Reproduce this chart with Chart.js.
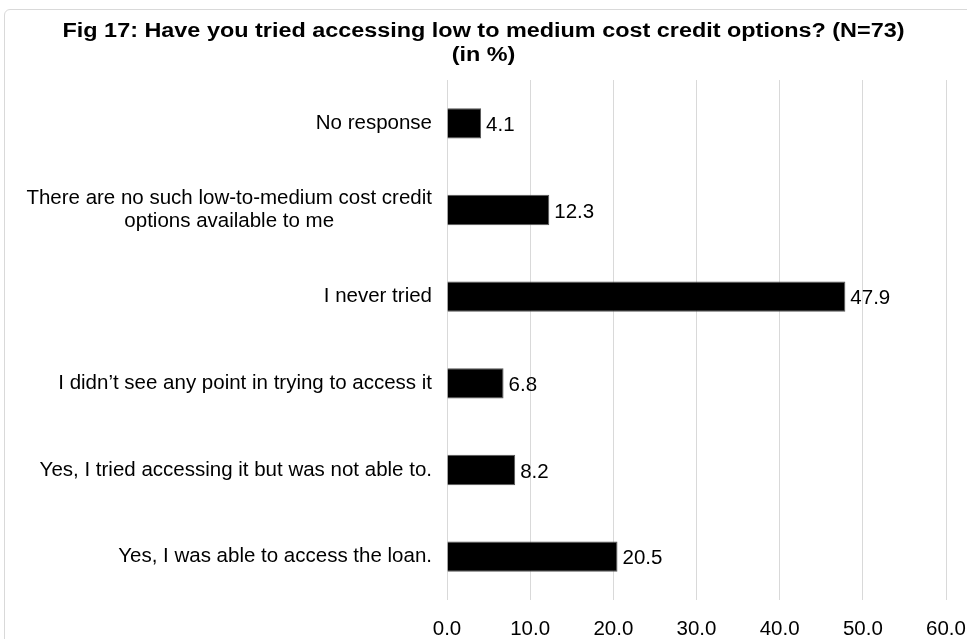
<!DOCTYPE html>
<html>
<head>
<meta charset="utf-8">
<title>Fig 17</title>
<script src="https://cdn.jsdelivr.net/npm/chart.js@4.4.0/dist/chart.umd.min.js"></script>
<style>
    html, body { margin: 0; padding: 0; background: #fff; overflow: hidden; }
    #wrap { position: relative; width: 967px; height: 639px; }
    #frame {
        position: absolute; left: 4px; top: 9px; width: 1000px; height: 700px;
        border: 1px solid #d9d9d9; border-radius: 6px; box-sizing: border-box;
    }
    canvas { position: absolute; left: 0; top: 0; }
</style>
</head>
<body>
<div id="wrap">
    <div id="frame"></div>
    <canvas id="chart" width="967" height="639"></canvas>
</div>
<script>
const titleLines = [
    "Fig 17: Have you tried accessing low to medium cost credit options? (N=73)",
    "(in %)"
];

const categories = [
    ["No response"],
    ["There are no such low-to-medium cost credit", "options available to me"],
    ["I never tried"],
    ["I didn\u2019t see any point in trying to access it"],
    ["Yes, I tried accessing it but was not able to."],
    ["Yes, I was able to access the loan."]
];

const percentages = [4.1, 12.3, 47.9, 6.8, 8.2, 20.5];

const xTicks = [0, 10, 20, 30, 40, 50, 60];

const fontFamily = "'Liberation Sans', Arial, Helvetica, sans-serif";
const labelSize = 20.5;

// bold title, slightly widened like the original export
const wideTitle = {
    id: "wideTitle",
    afterDraw(chart) {
        const ctx = chart.ctx;
        const cx = chart.width / 2;
        const stretch = 1.17;
        ctx.save();
        ctx.font = "bold 20px " + fontFamily;
        ctx.fillStyle = "#000";
        ctx.textAlign = "center";
        ctx.textBaseline = "middle";
        ctx.translate(cx, 0);
        ctx.scale(stretch, 1);
        ctx.fillText(titleLines[0], 0, 31);
        ctx.fillText(titleLines[1], 0, 55);
        ctx.restore();
    }
};

// category labels: block right-aligned to the axis, lines centred inside the block
const categoryLabels = {
    id: "categoryLabels",
    afterDraw(chart) {
        const ctx = chart.ctx;
        const yScale = chart.scales.y;
        const right = chart.chartArea.left - 15;
        const lineH = 23;
        ctx.save();
        ctx.font = labelSize + "px " + fontFamily;
        ctx.fillStyle = "#000";
        ctx.textBaseline = "middle";
        ctx.textAlign = "center";
        categories.forEach((lines, i) => {
            const y = yScale.getPixelForValue(i);
            const blockW = Math.max(...lines.map(l => ctx.measureText(l).width));
            const cx = right - blockW / 2;
            const y0 = y - (lines.length - 1) * lineH / 2;
            lines.forEach((l, j) => ctx.fillText(l, cx, y0 + j * lineH));
        });
        ctx.restore();
    }
};

// value printed just past the end of each bar
const barValues = {
    id: "barValues",
    afterDatasetsDraw(chart) {
        const ctx = chart.ctx;
        const meta = chart.getDatasetMeta(0);
        ctx.save();
        ctx.font = labelSize + "px " + fontFamily;
        ctx.fillStyle = "#000";
        ctx.textBaseline = "middle";
        ctx.textAlign = "left";
        meta.data.forEach((bar, i) => {
            ctx.fillText(percentages[i].toFixed(1), bar.x + 5, bar.y + 2);
        });
        ctx.restore();
    }
};

const ctx = document.getElementById("chart").getContext("2d");

new Chart(ctx, {
    type: "bar",
    data: {
        labels: categories.map(c => c.join(" ")),
        datasets: [{
            data: percentages,
            backgroundColor: "#000",
            borderColor: "#555",
            borderWidth: 1,
            barPercentage: 0.35,
            categoryPercentage: 1
        }]
    },
    options: {
        indexAxis: "y",
        responsive: false,
        animation: false,
        layout: { padding: { left: 0, right: 0, top: 80, bottom: 0 } },
        plugins: {
            legend: { display: false },
            tooltip: { enabled: false },
            title: { display: false }
        },
        scales: {
            x: {
                min: 0,
                max: 60,
                afterBuildTicks: scale => { scale.ticks = xTicks.map(v => ({ value: v })); },
                afterFit: scale => {
                    scale.height = 39;
                    scale.paddingLeft = 0;
                    scale.paddingRight = 21;
                },
                grid: { color: "#d9d9d9", lineWidth: 1, drawTicks: false },
                border: { display: false },
                ticks: {
                    padding: 17,
                    color: "#000",
                    font: { family: fontFamily, size: 20.5 },
                    callback: v => Number(v).toFixed(1)
                }
            },
            y: {
                afterFit: scale => { scale.width = 447; },
                grid: { display: false },
                border: { display: false },
                ticks: { display: false }
            }
        }
    },
    plugins: [wideTitle, categoryLabels, barValues]
});
</script>
</body>
</html>
